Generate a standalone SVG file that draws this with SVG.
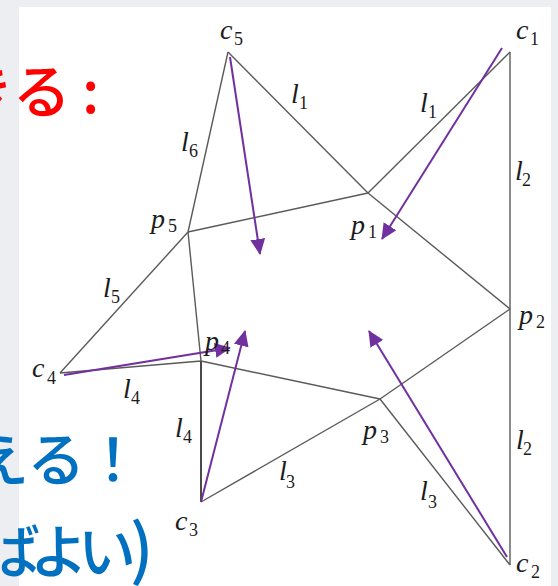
<svg xmlns="http://www.w3.org/2000/svg" width="558" height="586" viewBox="0 0 558 586">
<style>
.edge{stroke:#5a5a5a;stroke-width:1.4;fill:none}
.arrow{stroke:#7030a0;stroke-width:2;fill:none;marker-end:url(#ah)}
.lab{font-family:"Liberation Serif",serif;font-style:italic;font-size:28px;fill:#1c1c1c}
.sub{font-family:"Liberation Serif",serif;font-size:18px;fill:#1c1c1c}
.jp{font-family:"Noto Sans CJK JP",sans-serif;font-size:58px;font-weight:500}
</style>
<defs>
<marker id="ah" viewBox="0 0 16 15" refX="15" refY="7.5" markerWidth="16" markerHeight="15" markerUnits="userSpaceOnUse" orient="auto">
<path d="M0,0 L16,7.5 L0,15 z" fill="#7030a0"/>
</marker>
</defs>
<rect x="0" y="0" width="558" height="586" fill="#eceef1"/>
<rect x="19" y="7" width="532" height="579" fill="#ffffff"/>

<g id="connectors">
<line class="edge" x1="228" y1="52" x2="368" y2="193"/>
<line class="edge" x1="510" y1="52" x2="368" y2="193"/>
<line class="edge" x1="228" y1="52" x2="188" y2="232"/>
<line class="edge" x1="188" y1="232" x2="368" y2="193"/>
<line class="edge" x1="188" y1="232" x2="60" y2="373"/>
<line class="edge" x1="188" y1="232" x2="201" y2="361"/>
<line class="edge" x1="60" y1="373" x2="201" y2="361"/>
<line class="edge" x1="201" y1="361" x2="201" y2="502" style="stroke-width:2;stroke:#4a4a4a"/>
<line class="edge" x1="201" y1="361" x2="380" y2="399"/>
<line class="edge" x1="201" y1="502" x2="380" y2="399"/>
<line class="edge" x1="380" y1="399" x2="510" y2="565"/>
<line class="edge" x1="380" y1="399" x2="510" y2="309"/>
<line class="edge" x1="368" y1="193" x2="510" y2="309"/>
<line class="edge" x1="510" y1="52" x2="510" y2="309"/>
<line class="edge" x1="510" y1="309" x2="510" y2="565"/>

<line class="arrow" x1="230" y1="57" x2="260" y2="254"/>
<line class="arrow" x1="502" y1="48" x2="382" y2="239"/>
<line class="arrow" x1="64" y1="375" x2="230" y2="348"/>
<line class="arrow" x1="201" y1="502" x2="245" y2="331"/>
<line class="arrow" x1="507" y1="557" x2="369" y2="331"/>

<text class="lab" x="291" y="103">l</text><text class="sub" x="299" y="109">1</text>
<text class="lab" x="420" y="112">l</text><text class="sub" x="428" y="118">1</text>
<text class="lab" x="515" y="180">l</text><text class="sub" x="522" y="186">2</text>
<text class="lab" x="516" y="449">l</text><text class="sub" x="523" y="455">2</text>
<text class="lab" x="279" y="480">l</text><text class="sub" x="286" y="488">3</text>
<text class="lab" x="420" y="500">l</text><text class="sub" x="428" y="508">3</text>
<text class="lab" x="123" y="398">l</text><text class="sub" x="131" y="404">4</text>
<text class="lab" x="175" y="437">l</text><text class="sub" x="183" y="443">4</text>
<text class="lab" x="103" y="297">l</text><text class="sub" x="111" y="303">5</text>
<text class="lab" x="181" y="151">l</text><text class="sub" x="189" y="157">6</text>
</g>

<g id="c1"><text class="lab" x="516" y="39">c</text><text class="sub" x="530" y="45">1</text></g>
<g id="c2"><text class="lab" x="516" y="572">c</text><text class="sub" x="531" y="578">2</text></g>
<g id="c3"><text class="lab" x="175" y="530">c</text><text class="sub" x="189" y="536">3</text></g>
<g id="c4"><text class="lab" x="32" y="377">c</text><text class="sub" x="47" y="384">4</text></g>
<g id="c5"><text class="lab" x="220" y="39">c</text><text class="sub" x="234" y="45">5</text></g>
<g id="p1"><text class="lab" x="351" y="234">p</text><text class="sub" x="368" y="238">1</text></g>
<g id="p2"><text class="lab" x="519" y="324">p</text><text class="sub" x="536" y="328">2</text></g>
<g id="p3"><text class="lab" x="363" y="439">p</text><text class="sub" x="380" y="443">3</text></g>
<g id="p4"><text class="lab" x="205" y="350">p</text><text class="sub" x="221" y="354">4</text></g>
<g id="p5"><text class="lab" x="151" y="228">p</text><text class="sub" x="168" y="232">5</text></g>

<g id="caption">
<text class="jp" x="-44" y="113" fill="#ff0000">きる<tspan x="82">:</tspan></text>
<text class="jp" x="-29" y="481" fill="#0070c0">える<tspan x="84">！</tspan></text>
<text class="jp" x="-18" y="573" fill="#0070c0">ば<tspan x="30">よ</tspan><tspan x="78">い</tspan><tspan x="130" font-size="66">)</tspan></text>
</g>
</svg>
